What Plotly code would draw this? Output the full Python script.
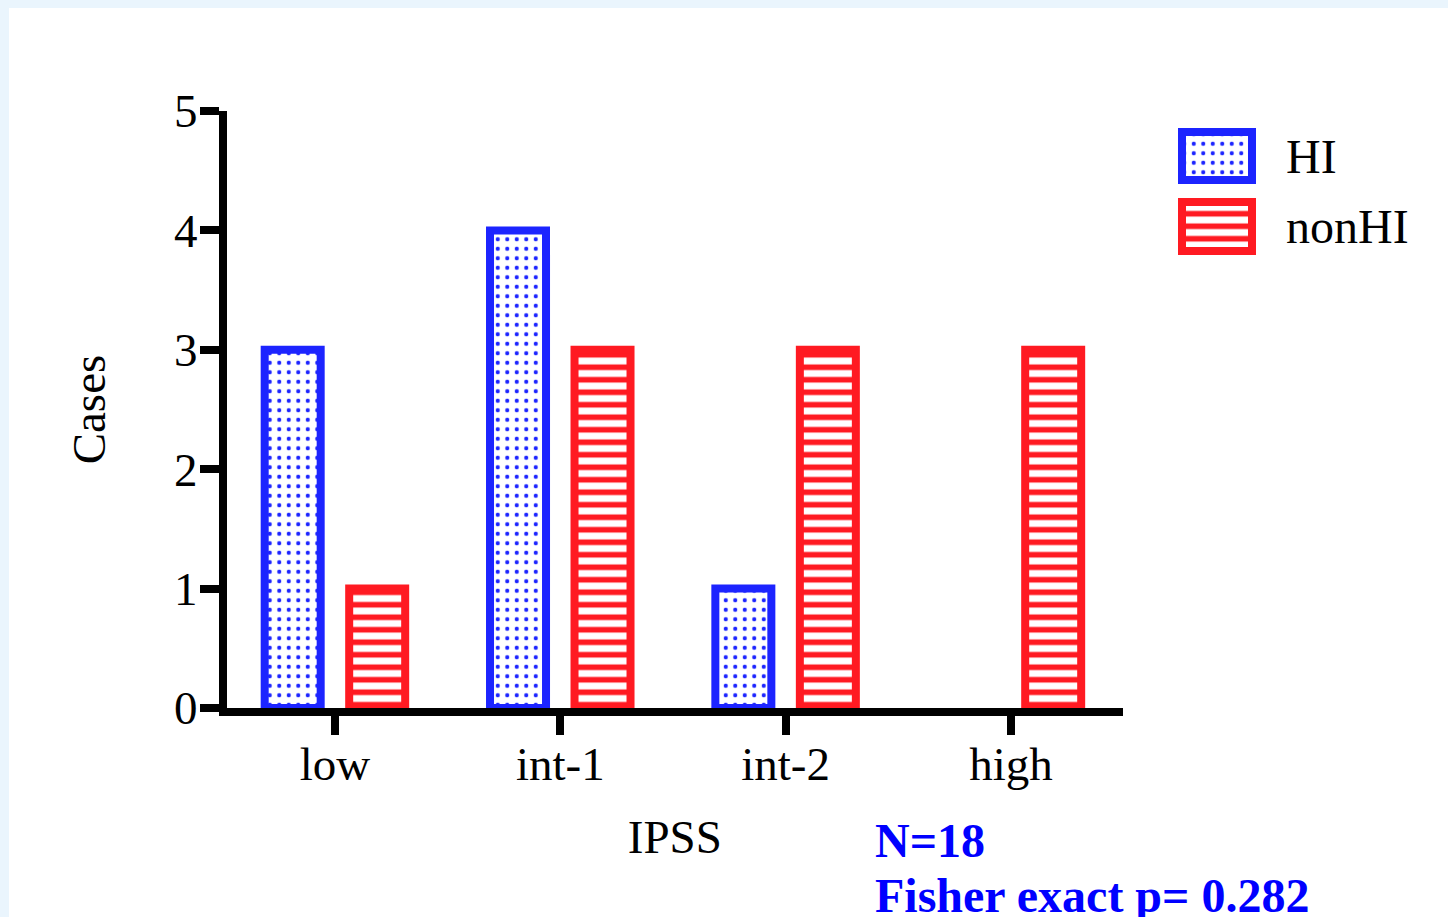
import plotly.graph_objects as go

# ---- data ----
categories = ["low", "int-1", "int-2", "high"]
hi_values = [3, 4, 1, 0]
nonhi_values = [1, 3, 3, 3]
series_names = ["HI", "nonHI"]
y_ticks = [0, 1, 2, 3, 4, 5]
x_title = "IPSS"
y_title = "Cases"
note_n = "N=18"
note_p = "Fisher exact p= 0.282"

# ---- style ----
FONT = "Liberation Serif, Times New Roman, serif"
FS = 47
BLUE = "#1C24FF"
RED = "#FF1A22"
TXT_BLUE = "#0000FF"
BG_STRIP = "#EAF5FD"
LW = 8

W, H = 1448, 917
ML, MT, MB, MR = 227, 111, 209, 20
PW = W - ML - MR
PH = H - MT - MB


def px_x(p):
    return (p - ML) / PW


def px_y(p):
    return (H - MB - p) / PH


main_dom = [0, 895.7 / PW]
bar_w = 0.2485
off = 0.1875

dots = dict(shape=".", fgcolor=BLUE, bgcolor="white", size=9.5, solidity=0.15, fillmode="replace")
stripes = dict(shape="-", fgcolor=RED, bgcolor="white", size=12.5, solidity=0.45, fillmode="replace")

fig = go.Figure()

fig.add_trace(go.Bar(
    x=categories, y=hi_values, name=series_names[0],
    width=bar_w, offset=-off - bar_w / 2,
    marker=dict(color="white", line=dict(color=BLUE, width=[LW if v else 0 for v in hi_values]),
                pattern=dots),
    showlegend=False, xaxis="x", yaxis="y",
))
fig.add_trace(go.Bar(
    x=categories, y=nonhi_values, name=series_names[1],
    width=bar_w, offset=off - bar_w / 2,
    marker=dict(color="white", line=dict(color=RED, width=[LW if v else 0 for v in nonhi_values]),
                pattern=stripes),
    showlegend=False, xaxis="x", yaxis="y",
))

# legend swatches drawn in a small helper subplot (axes in pixel units)
fig.add_trace(go.Bar(
    x=[47], y=[48], base=[85], width=[70], name=series_names[0],
    marker=dict(color="white", line=dict(color=BLUE, width=LW), pattern=dots),
    showlegend=False, hoverinfo="skip", cliponaxis=False,
    xaxis="x2", yaxis="y2",
))
fig.add_trace(go.Bar(
    x=[47], y=[49], base=[14], width=[70], name=series_names[1],
    marker=dict(color="white", line=dict(color=RED, width=LW), pattern=stripes),
    showlegend=False, hoverinfo="skip", cliponaxis=False,
    xaxis="x2", yaxis="y2",
))

axis_common = dict(
    showline=True, linewidth=LW, linecolor="black",
    ticks="outside", tickwidth=LW, tickcolor="black",
    showgrid=False, zeroline=False,
    tickfont=dict(family=FONT, size=FS, color="black"),
)

fig.update_layout(
    width=W, height=H,
    margin=dict(l=ML, r=MR, t=MT, b=MB, pad=0),
    paper_bgcolor="white", plot_bgcolor="white",
    barmode="overlay",
    font=dict(family=FONT, size=FS, color="black"),
    xaxis=dict(domain=main_dom, range=[-0.479, 3.496], ticklen=19, ticklabelstandoff=-11,
               title=dict(text=x_title, font=dict(family=FONT, size=FS), standoff=34),
               **axis_common),
    yaxis=dict(range=[0, 5], tickvals=y_ticks, ticklen=19, ticklabelstandoff=-7,
               title=dict(text=y_title, font=dict(family=FONT, size=FS), standoff=57),
               **axis_common),
    xaxis2=dict(domain=[px_x(1170), px_x(1265)], range=[0, 95], anchor="y2",
                visible=False, fixedrange=True),
    yaxis2=dict(domain=[px_y(265), px_y(120)], range=[0, 145], anchor="x2",
                visible=False, fixedrange=True),
    showlegend=False,
)

# legend labels
fig.add_annotation(text=series_names[0], x=px_x(1284), y=px_y(156), xref="paper", yref="paper",
                   xanchor="left", yanchor="middle", showarrow=False,
                   font=dict(family=FONT, size=FS + 1, color="black"))
fig.add_annotation(text=series_names[1], x=px_x(1284), y=px_y(226), xref="paper", yref="paper",
                   xanchor="left", yanchor="middle", showarrow=False,
                   font=dict(family=FONT, size=FS + 1, color="black"))

# stats notes
fig.add_annotation(text="<b>" + note_n + "</b>", x=px_x(873), y=px_y(840), xref="paper", yref="paper",
                   xanchor="left", yanchor="middle", showarrow=False,
                   font=dict(family=FONT, size=FS + 1, color=TXT_BLUE))
fig.add_annotation(text="<b>" + note_p + "</b>", x=px_x(873), y=px_y(896), xref="paper", yref="paper",
                   xanchor="left", yanchor="middle", showarrow=False,
                   font=dict(family=FONT, size=FS + 1, color=TXT_BLUE))

# light page border strips (top and left)
fig.add_shape(type="rect", xref="paper", yref="paper", layer="below",
              x0=px_x(0), x1=px_x(W), y0=px_y(8), y1=px_y(0),
              fillcolor=BG_STRIP, line=dict(width=0))
fig.add_shape(type="rect", xref="paper", yref="paper", layer="below",
              x0=px_x(0), x1=px_x(9), y0=px_y(H), y1=px_y(0),
              fillcolor=BG_STRIP, line=dict(width=0))

fig.write_html("out.html")
